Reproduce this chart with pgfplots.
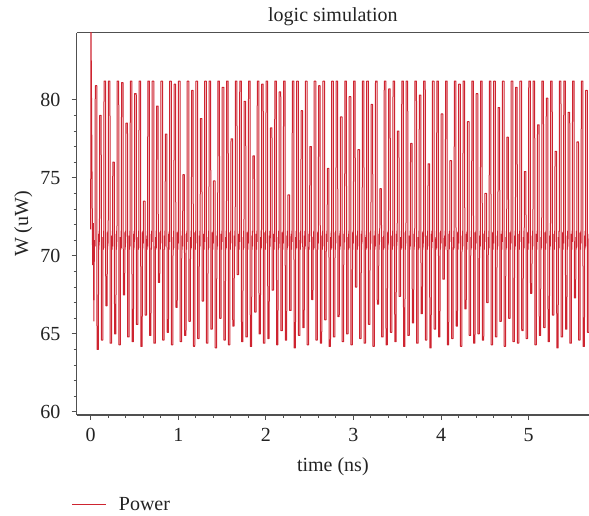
\documentclass[border=0pt]{standalone}
\usepackage{pgfplots}
\pgfplotsset{compat=1.18}
\usepackage{fontspec}
\setmainfont{Liberation Serif}
\definecolor{pw}{RGB}{206,36,48}
\definecolor{axc}{RGB}{80,80,80}
\definecolor{txc}{RGB}{35,35,35}
\begin{document}
\begin{tikzpicture}[font=\fontsize{20}{24}\selectfont]
\begin{axis}[
  name=ax, scale only axis, width=512.3pt, height=382.3pt,
  xmin=-0.16, xmax=5.69, ymin=59.8, ymax=84.3,
  axis x line*=box, axis y line*=left,
  xtick={0,1,2,3,4,5}, ytick={60,65,70,75,80},
  minor x tick num=4, minor y tick num=4,
  xtick pos=left, ytick pos=left,
  tick align=outside,
  major tick length=5pt, minor tick length=3pt,
  axis line style={draw=axc, line width=1.1pt},
  every tick/.style={draw=axc, line width=0.9pt},
  /pgf/number format/assume math mode=true,
  ticklabel style={text=txc},
  xticklabel style={inner sep=0pt, anchor=north, yshift=-8pt},
  yticklabel style={inner sep=0pt, anchor=east, xshift=-11pt},
  title={logic simulation},
  title style={at={(0.5,1)}, anchor=base, inner sep=0pt, yshift=5pt, text=txc},
  xlabel={time (ns)},
  xlabel style={at={(0.5,0)}, anchor=base, inner sep=0pt, yshift=-56.7pt, text=txc},
  ylabel={W (uW)},
  ylabel style={at={(-0.095,0.5)}, anchor=base, inner sep=0pt, text=txc},
  legend style={draw=none, fill=none, inner sep=0pt, at={(-0.0098,-0.2354)}, anchor=west,
    font=\fontsize{20}{24}\selectfont, text=txc,
    /tikz/every odd column/.append style={column sep=10pt}},
  legend cell align=left,
  legend image code/.code={\draw[#1, line width=1pt] (0pt,0pt) -- (34pt,0pt);},
]
\addplot[pw, line width=1.0pt, line join=bevel] coordinates {
(0.000,71.7)(0.002,86.0)(0.010,79.3)(0.022,69.4)(0.030,72.1)(0.036,65.8)(0.042,71.0)
(0.050,70.6)(0.052,80.9)(0.070,80.9)(0.072,64.0)(0.088,64.0)(0.090,71.4)(0.094,70.4)(0.097,71.6)
(0.100,70.9)(0.102,79.0)(0.120,79.0)(0.122,64.6)(0.138,64.6)(0.140,71.2)(0.144,70.4)(0.147,71.6)
(0.150,70.5)(0.152,81.2)(0.170,81.2)(0.172,66.8)(0.188,66.8)(0.190,71.5)(0.194,70.4)(0.197,71.6)
(0.200,70.8)(0.202,81.2)(0.220,81.2)(0.222,64.4)(0.238,64.4)(0.240,71.3)(0.244,70.4)(0.247,71.6)
(0.250,70.6)(0.252,76.0)(0.270,76.0)(0.272,65.0)(0.288,65.0)(0.290,71.4)(0.294,70.4)(0.297,71.6)
(0.300,70.9)(0.302,81.2)(0.320,81.2)(0.322,64.3)(0.338,64.3)(0.340,71.2)(0.344,70.4)(0.347,71.6)
(0.350,70.5)(0.352,81.1)(0.370,81.1)(0.372,67.5)(0.388,67.5)(0.390,71.5)(0.394,70.4)(0.397,71.6)
(0.400,70.8)(0.402,78.5)(0.420,78.5)(0.422,64.8)(0.438,64.8)(0.440,71.3)(0.444,70.4)(0.447,71.6)
(0.450,70.6)(0.452,81.2)(0.470,81.2)(0.472,64.5)(0.488,64.5)(0.490,71.4)(0.494,70.4)(0.497,71.6)
(0.500,70.9)(0.502,80.4)(0.520,80.4)(0.522,65.6)(0.538,65.6)(0.540,71.2)(0.544,70.4)(0.547,71.6)
(0.550,70.5)(0.552,81.2)(0.570,81.2)(0.572,64.2)(0.588,64.2)(0.590,71.5)(0.594,70.4)(0.597,71.6)
(0.600,70.8)(0.602,73.5)(0.620,73.5)(0.622,66.2)(0.638,66.2)(0.640,71.3)(0.644,70.4)(0.647,71.6)
(0.650,70.6)(0.652,81.2)(0.670,81.2)(0.672,64.9)(0.688,64.9)(0.690,71.4)(0.694,70.4)(0.697,71.6)
(0.700,70.9)(0.702,81.2)(0.720,81.2)(0.722,64.4)(0.738,64.4)(0.740,71.2)(0.744,70.4)(0.747,71.6)
(0.750,70.5)(0.752,79.6)(0.770,79.6)(0.772,68.3)(0.788,68.3)(0.790,71.5)(0.794,70.4)(0.797,71.6)
(0.800,70.8)(0.802,81.2)(0.820,81.2)(0.822,64.6)(0.838,64.6)(0.840,71.3)(0.844,70.4)(0.847,71.6)
(0.850,70.6)(0.852,77.8)(0.870,77.8)(0.872,65.1)(0.888,65.1)(0.890,71.4)(0.894,70.4)(0.897,71.6)
(0.900,70.9)(0.902,81.2)(0.920,81.2)(0.922,64.3)(0.938,64.3)(0.940,71.2)(0.944,70.4)(0.947,71.6)
(0.950,70.5)(0.952,81.0)(0.970,81.0)(0.972,66.7)(0.988,66.7)(0.990,71.5)(0.994,70.4)(0.997,71.6)
(1.000,70.8)(1.002,81.2)(1.020,81.2)(1.022,64.5)(1.038,64.5)(1.040,71.3)(1.044,70.4)(1.047,71.6)
(1.050,70.6)(1.052,75.2)(1.070,75.2)(1.072,64.9)(1.088,64.9)(1.090,71.4)(1.094,70.4)(1.097,71.6)
(1.100,70.9)(1.102,81.2)(1.120,81.2)(1.122,65.8)(1.138,65.8)(1.140,71.2)(1.144,70.4)(1.147,71.6)
(1.150,70.5)(1.152,80.6)(1.170,80.6)(1.172,64.2)(1.188,64.2)(1.190,71.5)(1.194,70.4)(1.197,71.6)
(1.200,70.8)(1.202,81.2)(1.220,81.2)(1.222,64.7)(1.238,64.7)(1.240,71.3)(1.244,70.4)(1.247,71.6)
(1.250,70.6)(1.252,78.8)(1.270,78.8)(1.272,67.1)(1.288,67.1)(1.290,71.4)(1.294,70.4)(1.297,71.6)
(1.300,70.9)(1.302,81.2)(1.320,81.2)(1.322,64.4)(1.338,64.4)(1.340,71.2)(1.344,70.4)(1.347,71.6)
(1.350,70.5)(1.352,81.2)(1.370,81.2)(1.372,65.3)(1.388,65.3)(1.390,71.5)(1.394,70.4)(1.397,71.6)
(1.400,70.8)(1.402,74.8)(1.420,74.8)(1.422,64.1)(1.438,64.1)(1.440,71.3)(1.444,70.4)(1.447,71.6)
(1.450,70.6)(1.452,81.2)(1.470,81.2)(1.472,66.0)(1.488,66.0)(1.490,71.4)(1.494,70.4)(1.497,71.6)
(1.500,70.9)(1.502,80.8)(1.520,80.8)(1.522,64.6)(1.538,64.6)(1.540,71.2)(1.544,70.4)(1.547,71.6)
(1.550,70.5)(1.552,81.2)(1.570,81.2)(1.572,64.3)(1.588,64.3)(1.590,71.5)(1.594,70.4)(1.597,71.6)
(1.600,70.8)(1.602,77.5)(1.620,77.5)(1.622,65.5)(1.638,65.5)(1.640,71.3)(1.644,70.4)(1.647,71.6)
(1.650,70.6)(1.652,81.2)(1.670,81.2)(1.672,68.8)(1.688,68.8)(1.690,71.4)(1.694,70.4)(1.697,71.6)
(1.700,70.9)(1.702,81.2)(1.720,81.2)(1.722,64.5)(1.738,64.5)(1.740,71.2)(1.744,70.4)(1.747,71.6)
(1.750,70.5)(1.752,79.9)(1.770,79.9)(1.772,64.8)(1.788,64.8)(1.790,71.5)(1.794,70.4)(1.797,71.6)
(1.800,70.8)(1.802,81.2)(1.820,81.2)(1.822,64.2)(1.838,64.2)(1.840,71.3)(1.844,70.4)(1.847,71.6)
(1.850,70.6)(1.852,76.4)(1.870,76.4)(1.872,66.4)(1.888,66.4)(1.890,71.4)(1.894,70.4)(1.897,71.6)
(1.900,70.9)(1.902,81.2)(1.920,81.2)(1.922,65.0)(1.938,65.0)(1.940,71.2)(1.944,70.4)(1.947,71.6)
(1.950,70.5)(1.952,81.0)(1.970,81.0)(1.972,64.4)(1.988,64.4)(1.990,71.5)(1.994,70.4)(1.997,71.6)
(2.000,70.8)(2.002,81.2)(2.020,81.2)(2.022,64.7)(2.038,64.7)(2.040,71.3)(2.044,70.4)(2.047,71.6)
(2.050,70.6)(2.052,78.2)(2.070,78.2)(2.072,67.8)(2.088,67.8)(2.090,71.4)(2.094,70.4)(2.097,71.6)
(2.100,70.9)(2.102,81.2)(2.120,81.2)(2.122,64.3)(2.138,64.3)(2.140,71.2)(2.144,70.4)(2.147,71.6)
(2.150,70.5)(2.152,80.5)(2.170,80.5)(2.172,65.2)(2.188,65.2)(2.190,71.5)(2.194,70.4)(2.197,71.6)
(2.200,70.8)(2.202,81.2)(2.220,81.2)(2.222,64.6)(2.238,64.6)(2.240,71.3)(2.244,70.4)(2.247,71.6)
(2.250,70.6)(2.252,73.9)(2.270,73.9)(2.272,66.5)(2.288,66.5)(2.290,71.4)(2.294,70.4)(2.297,71.6)
(2.300,70.9)(2.302,81.2)(2.320,81.2)(2.322,64.1)(2.338,64.1)(2.340,71.2)(2.344,70.4)(2.347,71.6)
(2.350,70.5)(2.352,81.2)(2.370,81.2)(2.372,64.9)(2.388,64.9)(2.390,71.5)(2.394,70.4)(2.397,71.6)
(2.400,70.8)(2.402,79.3)(2.420,79.3)(2.422,65.4)(2.438,65.4)(2.440,71.3)(2.444,70.4)(2.447,71.6)
(2.450,70.6)(2.452,81.2)(2.470,81.2)(2.472,64.3)(2.488,64.3)(2.490,71.4)(2.494,70.4)(2.497,71.6)
(2.500,70.9)(2.502,77.0)(2.520,77.0)(2.522,67.2)(2.538,67.2)(2.540,71.2)(2.544,70.4)(2.547,71.6)
(2.550,70.5)(2.552,81.2)(2.570,81.2)(2.572,64.6)(2.588,64.6)(2.590,71.5)(2.594,70.4)(2.597,71.6)
(2.600,70.8)(2.602,80.9)(2.620,80.9)(2.622,64.4)(2.638,64.4)(2.640,71.3)(2.644,70.4)(2.647,71.6)
(2.650,70.6)(2.652,81.2)(2.670,81.2)(2.672,65.9)(2.688,65.9)(2.690,71.4)(2.694,70.4)(2.697,71.6)
(2.700,70.9)(2.702,75.6)(2.720,75.6)(2.722,64.2)(2.738,64.2)(2.740,71.2)(2.744,70.4)(2.747,71.6)
(2.750,70.5)(2.752,81.2)(2.770,81.2)(2.772,64.8)(2.788,64.8)(2.790,71.5)(2.794,70.4)(2.797,71.6)
(2.800,70.8)(2.802,81.2)(2.820,81.2)(2.822,66.1)(2.838,66.1)(2.840,71.3)(2.844,70.4)(2.847,71.6)
(2.850,70.6)(2.852,78.9)(2.870,78.9)(2.872,64.5)(2.888,64.5)(2.890,71.4)(2.894,70.4)(2.897,71.6)
(2.900,70.9)(2.902,81.2)(2.920,81.2)(2.922,65.0)(2.938,65.0)(2.940,71.2)(2.944,70.4)(2.947,71.6)
(2.950,70.5)(2.952,80.2)(2.970,80.2)(2.972,64.3)(2.988,64.3)(2.990,71.5)(2.994,70.4)(2.997,71.6)
(3.000,70.8)(3.002,81.2)(3.020,81.2)(3.022,68.0)(3.038,68.0)(3.040,71.3)(3.044,70.4)(3.047,71.6)
(3.050,70.6)(3.052,76.8)(3.070,76.8)(3.072,64.7)(3.088,64.7)(3.090,71.4)(3.094,70.4)(3.097,71.6)
(3.100,70.9)(3.102,81.2)(3.120,81.2)(3.122,64.4)(3.138,64.4)(3.140,71.2)(3.144,70.4)(3.147,71.6)
(3.150,70.5)(3.152,81.2)(3.170,81.2)(3.172,65.6)(3.188,65.6)(3.190,71.5)(3.194,70.4)(3.197,71.6)
(3.200,70.8)(3.202,79.7)(3.220,79.7)(3.222,64.2)(3.238,64.2)(3.240,71.3)(3.244,70.4)(3.247,71.6)
(3.250,70.6)(3.252,81.2)(3.270,81.2)(3.272,66.9)(3.288,66.9)(3.290,71.4)(3.294,70.4)(3.297,71.6)
(3.300,70.9)(3.302,74.3)(3.320,74.3)(3.322,64.8)(3.338,64.8)(3.340,71.2)(3.344,70.4)(3.347,71.6)
(3.350,70.5)(3.352,81.2)(3.370,81.2)(3.372,64.3)(3.388,64.3)(3.390,71.5)(3.394,70.4)(3.397,71.6)
(3.400,70.8)(3.402,80.7)(3.420,80.7)(3.422,65.1)(3.438,65.1)(3.440,71.3)(3.444,70.4)(3.447,71.6)
(3.450,70.6)(3.452,81.2)(3.470,81.2)(3.472,64.5)(3.488,64.5)(3.490,71.4)(3.494,70.4)(3.497,71.6)
(3.500,70.9)(3.502,78.0)(3.520,78.0)(3.522,67.4)(3.538,67.4)(3.540,71.2)(3.544,70.4)(3.547,71.6)
(3.550,70.5)(3.552,81.2)(3.570,81.2)(3.572,64.2)(3.588,64.2)(3.590,71.5)(3.594,70.4)(3.597,71.6)
(3.600,70.8)(3.602,81.2)(3.620,81.2)(3.622,64.9)(3.638,64.9)(3.640,71.3)(3.644,70.4)(3.647,71.6)
(3.650,70.6)(3.652,77.2)(3.670,77.2)(3.672,65.7)(3.688,65.7)(3.690,71.4)(3.694,70.4)(3.697,71.6)
(3.700,70.9)(3.702,81.2)(3.720,81.2)(3.722,64.4)(3.738,64.4)(3.740,71.2)(3.744,70.4)(3.747,71.6)
(3.750,70.5)(3.752,80.3)(3.770,80.3)(3.772,66.3)(3.788,66.3)(3.790,71.5)(3.794,70.4)(3.797,71.6)
(3.800,70.8)(3.802,81.2)(3.820,81.2)(3.822,64.6)(3.838,64.6)(3.840,71.3)(3.844,70.4)(3.847,71.6)
(3.850,70.6)(3.852,75.9)(3.870,75.9)(3.872,64.1)(3.888,64.1)(3.890,71.4)(3.894,70.4)(3.897,71.6)
(3.900,70.9)(3.902,81.2)(3.920,81.2)(3.922,65.3)(3.938,65.3)(3.940,71.2)(3.944,70.4)(3.947,71.6)
(3.950,70.5)(3.952,81.2)(3.970,81.2)(3.972,64.8)(3.988,64.8)(3.990,71.5)(3.994,70.4)(3.997,71.6)
(4.000,70.8)(4.002,79.1)(4.020,79.1)(4.022,68.5)(4.038,68.5)(4.040,71.3)(4.044,70.4)(4.047,71.6)
(4.050,70.6)(4.052,81.2)(4.070,81.2)(4.072,64.3)(4.088,64.3)(4.090,71.4)(4.094,70.4)(4.097,71.6)
(4.100,70.9)(4.102,76.1)(4.120,76.1)(4.122,64.7)(4.138,64.7)(4.140,71.2)(4.144,70.4)(4.147,71.6)
(4.150,70.5)(4.152,81.2)(4.170,81.2)(4.172,65.5)(4.188,65.5)(4.190,71.5)(4.194,70.4)(4.197,71.6)
(4.200,70.8)(4.202,81.0)(4.220,81.0)(4.222,64.2)(4.238,64.2)(4.240,71.3)(4.244,70.4)(4.247,71.6)
(4.250,70.6)(4.252,81.2)(4.270,81.2)(4.272,66.6)(4.288,66.6)(4.290,71.4)(4.294,70.4)(4.297,71.6)
(4.300,70.9)(4.302,78.6)(4.320,78.6)(4.322,64.9)(4.338,64.9)(4.340,71.2)(4.344,70.4)(4.347,71.6)
(4.350,70.5)(4.352,81.2)(4.370,81.2)(4.372,64.4)(4.388,64.4)(4.390,71.5)(4.394,70.4)(4.397,71.6)
(4.400,70.8)(4.402,80.4)(4.420,80.4)(4.422,65.0)(4.438,65.0)(4.440,71.3)(4.444,70.4)(4.447,71.6)
(4.450,70.6)(4.452,81.2)(4.470,81.2)(4.472,64.6)(4.488,64.6)(4.490,71.4)(4.494,70.4)(4.497,71.6)
(4.500,70.9)(4.502,74.0)(4.520,74.0)(4.522,67.0)(4.538,67.0)(4.540,71.2)(4.544,70.4)(4.547,71.6)
(4.550,70.5)(4.552,81.2)(4.570,81.2)(4.572,64.3)(4.588,64.3)(4.590,71.5)(4.594,70.4)(4.597,71.6)
(4.600,70.8)(4.602,81.2)(4.620,81.2)(4.622,64.8)(4.638,64.8)(4.640,71.3)(4.644,70.4)(4.647,71.6)
(4.650,70.6)(4.652,79.5)(4.670,79.5)(4.672,65.8)(4.688,65.8)(4.690,71.4)(4.694,70.4)(4.697,71.6)
(4.700,70.9)(4.702,81.2)(4.720,81.2)(4.722,64.2)(4.738,64.2)(4.740,71.2)(4.744,70.4)(4.747,71.6)
(4.750,70.5)(4.752,77.6)(4.770,77.6)(4.772,66.0)(4.788,66.0)(4.790,71.5)(4.794,70.4)(4.797,71.6)
(4.800,70.8)(4.802,81.2)(4.820,81.2)(4.822,64.5)(4.838,64.5)(4.840,71.3)(4.844,70.4)(4.847,71.6)
(4.850,70.6)(4.852,80.8)(4.870,80.8)(4.872,64.4)(4.888,64.4)(4.890,71.4)(4.894,70.4)(4.897,71.6)
(4.900,70.9)(4.902,81.2)(4.920,81.2)(4.922,65.2)(4.938,65.2)(4.940,71.2)(4.944,70.4)(4.947,71.6)
(4.950,70.5)(4.952,75.4)(4.970,75.4)(4.972,64.7)(4.988,64.7)(4.990,71.5)(4.994,70.4)(4.997,71.6)
(5.000,70.8)(5.002,81.2)(5.020,81.2)(5.022,67.6)(5.038,67.6)(5.040,71.3)(5.044,70.4)(5.047,71.6)
(5.050,70.6)(5.052,81.2)(5.070,81.2)(5.072,64.3)(5.088,64.3)(5.090,71.4)(5.094,70.4)(5.097,71.6)
(5.100,70.9)(5.102,78.4)(5.120,78.4)(5.122,64.9)(5.138,64.9)(5.140,71.2)(5.144,70.4)(5.147,71.6)
(5.150,70.5)(5.152,81.2)(5.170,81.2)(5.172,65.4)(5.188,65.4)(5.190,71.5)(5.194,70.4)(5.197,71.6)
(5.200,70.8)(5.202,80.1)(5.220,80.1)(5.222,64.5)(5.238,64.5)(5.240,71.3)(5.244,70.4)(5.247,71.6)
(5.250,70.6)(5.252,81.2)(5.270,81.2)(5.272,66.2)(5.288,66.2)(5.290,71.4)(5.294,70.4)(5.297,71.6)
(5.300,70.9)(5.302,76.7)(5.320,76.7)(5.322,64.1)(5.338,64.1)(5.340,71.2)(5.344,70.4)(5.347,71.6)
(5.350,70.5)(5.352,81.2)(5.370,81.2)(5.372,64.8)(5.388,64.8)(5.390,71.5)(5.394,70.4)(5.397,71.6)
(5.400,70.8)(5.402,81.2)(5.420,81.2)(5.422,65.3)(5.438,65.3)(5.440,71.3)(5.444,70.4)(5.447,71.6)
(5.450,70.6)(5.452,79.2)(5.470,79.2)(5.472,64.4)(5.488,64.4)(5.490,71.4)(5.494,70.4)(5.497,71.6)
(5.500,70.9)(5.502,81.2)(5.520,81.2)(5.522,67.3)(5.538,67.3)(5.540,71.2)(5.544,70.4)(5.547,71.6)
(5.550,70.5)(5.552,77.3)(5.570,77.3)(5.572,64.6)(5.588,64.6)(5.590,71.5)(5.594,70.4)(5.597,71.6)
(5.600,70.8)(5.602,81.2)(5.620,81.2)(5.622,64.2)(5.638,64.2)(5.640,71.3)(5.644,70.4)(5.647,71.6)
(5.650,70.6)(5.652,80.6)(5.670,80.6)(5.672,65.1)(5.688,65.1)(5.690,71.4)(5.694,70.4)(5.697,71.6)
};
\addlegendentry{Power}
\end{axis}
\pgfresetboundingbox
\path (ax.south west) ++(-76.7pt,-101pt) rectangle (ax.north east) ++(0pt,32.7pt);
\end{tikzpicture}
\end{document}
